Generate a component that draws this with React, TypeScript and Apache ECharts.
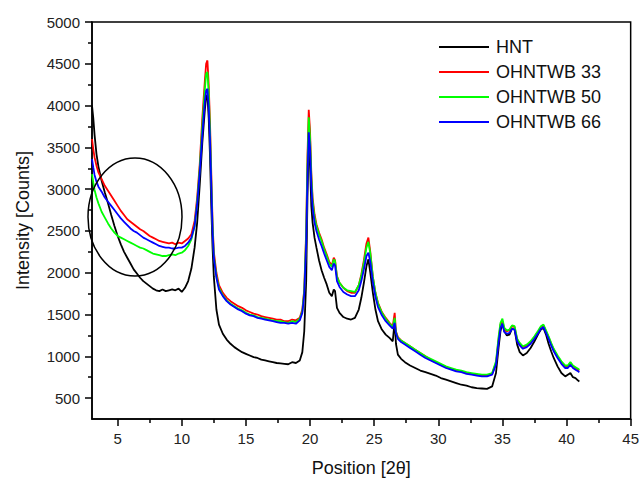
import React, { useEffect, useRef } from "react";
import * as echarts from "echarts";

const positions = [
  3.0, 3.1, 3.2, 3.35, 3.5, 3.75, 4.0, 4.25, 4.5, 4.75,
  5.0, 5.25, 5.5, 5.75, 6.0, 6.25, 6.5, 6.75, 7.0, 7.25,
  7.5, 7.75, 8.0, 8.25, 8.5, 8.75, 9.0, 9.25, 9.5, 9.75,
  10.0, 10.25, 10.5, 10.75, 11.0, 11.2, 11.4, 11.6, 11.8, 11.9,
  12.0, 12.1, 12.2, 12.3, 12.4, 12.5, 12.7, 12.9, 13.2, 13.5,
  13.8, 14.1, 14.4, 14.7, 15.0, 15.3, 15.6, 15.9, 16.2, 16.5,
  16.8, 17.1, 17.4, 17.7, 18.0, 18.3, 18.6, 18.9, 19.2, 19.4,
  19.55, 19.7, 19.8, 19.9, 20.0, 20.1, 20.2, 20.35, 20.5, 20.7,
  20.9, 21.1, 21.3, 21.5, 21.7, 21.85, 21.95, 22.1, 22.3, 22.6,
  22.9, 23.2, 23.5, 23.8, 24.0, 24.2, 24.4, 24.55, 24.7, 24.9,
  25.1, 25.3, 25.6, 25.9, 26.2, 26.45, 26.6, 26.7, 26.85, 27.1,
  27.4, 27.8, 28.2, 28.6, 29.0, 29.4, 29.8, 30.2, 30.6, 31.0,
  31.4, 31.8, 32.2, 32.6, 33.0, 33.4, 33.8, 34.2, 34.5, 34.7,
  34.85, 35.0, 35.15, 35.35, 35.55, 35.75, 35.95, 36.15, 36.35, 36.6,
  36.9, 37.2, 37.5, 37.8, 38.0, 38.2, 38.4, 38.6, 38.8, 39.0,
  39.3, 39.6, 39.9, 40.1, 40.3, 40.5, 40.7, 40.9, 41.0,
];

const hnt = [
  4000, 3850, 3650, 3420, 3270, 3100, 2960, 2830, 2690, 2560,
  2440, 2340, 2250, 2180, 2110, 2040, 1990, 1940, 1900, 1870,
  1840, 1810, 1790, 1780, 1800, 1780, 1790, 1800, 1790, 1810,
  1770, 1820, 1900, 2050, 2300, 2600, 3050, 3550, 3950, 4100,
  4130, 3850, 3400, 2800, 2300, 1950, 1560, 1380, 1270, 1200,
  1150, 1110, 1080, 1050, 1030, 1010, 990, 980, 960, 950,
  940, 930, 920, 915, 910, 905, 930, 920, 950, 1050,
  1300, 1900, 2900, 3550, 3300, 2800, 2600, 2420, 2300, 2150,
  2030, 1940, 1860, 1760, 1720, 1800, 1780, 1580, 1520, 1470,
  1450, 1440, 1460, 1560, 1700, 1880, 2080, 2160, 2000, 1760,
  1560, 1420, 1320, 1260, 1220, 1180, 1420, 1150, 1020, 970,
  930, 890, 860, 830, 810, 790, 770, 740, 720, 700,
  680, 660, 650, 630, 620, 615, 610, 640, 800, 1100,
  1300, 1400, 1300, 1250, 1260, 1330, 1320, 1140, 1050, 1010,
  1040, 1100, 1180, 1270, 1320, 1340, 1260, 1150, 1060, 980,
  880, 800, 760, 780, 800, 750, 740, 710, 700,
];

const ohntwb33 = [
  3600, 3480, 3380, 3280, 3200, 3120, 3040, 2980, 2920, 2860,
  2800, 2740, 2690, 2640, 2610, 2580, 2550, 2520, 2500, 2470,
  2440, 2420, 2400, 2380, 2370, 2360, 2350, 2360, 2340, 2360,
  2350, 2380, 2410, 2460, 2620, 2900, 3300, 3850, 4300, 4500,
  4540, 4250, 3800, 3200, 2600, 2250, 2000, 1850, 1760, 1700,
  1660, 1630, 1600, 1580, 1550, 1530, 1510, 1500, 1480, 1470,
  1460, 1450, 1440, 1440, 1420, 1420, 1440, 1430, 1460, 1560,
  1800, 2500, 3400, 3950, 3700, 3200, 2900, 2700, 2580, 2480,
  2400, 2300, 2220, 2130, 2090, 2180, 2150, 1960, 1880, 1820,
  1780, 1760, 1760, 1850, 1980, 2150, 2350, 2420, 2250, 1950,
  1760, 1640, 1530, 1460, 1400, 1360, 1520, 1300, 1230, 1190,
  1160, 1120, 1080, 1040, 1000, 960, 930, 900, 870, 850,
  830, 820, 800, 790, 780, 770, 770, 790, 920, 1200,
  1380, 1420, 1320, 1300, 1310, 1360, 1350, 1200, 1150, 1110,
  1130, 1170, 1230, 1300, 1350, 1370, 1300, 1230, 1150, 1080,
  1000, 930, 880, 880, 920, 880, 860, 840, 830,
];

const ohntwb50 = [
  3180, 3080, 2990, 2900, 2830, 2730, 2660, 2590, 2530, 2480,
  2440, 2420, 2400, 2380, 2360, 2340, 2320, 2300, 2290, 2270,
  2250, 2230, 2220, 2210, 2200, 2200, 2210, 2220, 2210, 2230,
  2240, 2270, 2320, 2400, 2560, 2850, 3250, 3750, 4200, 4380,
  4400, 4150, 3700, 3100, 2550, 2200, 1960, 1820, 1730, 1670,
  1630, 1600, 1570, 1550, 1520, 1500, 1490, 1470, 1460, 1450,
  1440, 1430, 1420, 1420, 1410, 1400, 1420, 1410, 1450, 1540,
  1780, 2450, 3300, 3860, 3620, 3150, 2860, 2660, 2560, 2460,
  2380, 2280, 2200, 2110, 2070, 2160, 2140, 1950, 1880, 1820,
  1790, 1780, 1770, 1850, 1960, 2120, 2300, 2370, 2230, 1950,
  1760, 1630, 1520, 1450, 1390, 1350, 1460, 1290, 1220, 1190,
  1160, 1120, 1080, 1040, 1000, 970, 940, 910, 880, 860,
  840, 830, 810, 800, 790, 780, 780, 800, 940, 1230,
  1400, 1450, 1340, 1310, 1320, 1370, 1360, 1210, 1160, 1120,
  1140, 1180, 1240, 1310, 1360, 1380, 1310, 1240, 1160, 1090,
  1010, 940, 890, 890, 930, 890, 870, 850, 840,
];

const ohntwb66 = [
  3360, 3260, 3170, 3090, 3030, 2970, 2900, 2850, 2800, 2750,
  2700, 2650, 2610, 2570, 2530, 2500, 2480, 2450, 2420, 2400,
  2380, 2360, 2340, 2320, 2310, 2300, 2300, 2290, 2290, 2300,
  2300, 2320, 2360, 2420, 2560, 2820, 3200, 3650, 4050, 4180,
  4200, 3980, 3600, 3050, 2500, 2180, 1940, 1800, 1720, 1660,
  1620, 1590, 1560, 1540, 1510, 1490, 1480, 1460, 1450, 1440,
  1430, 1420, 1410, 1400, 1400, 1390, 1400, 1390, 1430, 1520,
  1740, 2350, 3150, 3680, 3500, 3050, 2780, 2600, 2500, 2400,
  2320, 2230, 2150, 2070, 2030, 2110, 2090, 1900, 1830, 1770,
  1740, 1720, 1720, 1790, 1900, 2040, 2200, 2240, 2130, 1890,
  1710, 1590, 1490, 1420, 1370, 1330, 1400, 1280, 1210, 1170,
  1140, 1100, 1060, 1020, 980, 950, 920, 890, 860, 840,
  820, 810, 790, 780, 770, 760, 760, 780, 900, 1170,
  1340, 1390, 1290, 1270, 1280, 1330, 1320, 1180, 1130, 1090,
  1110, 1150, 1210, 1280, 1330, 1350, 1280, 1210, 1130, 1060,
  980, 910, 860, 860, 900, 860, 840, 820, 810,
];

const seriesNames = ["HNT", "OHNTWB 33", "OHNTWB 50", "OHNTWB 66"];
const seriesColors = ["#000000", "#ff0000", "#00ff00", "#0000ff"];

const xMajorTicks = [5, 10, 15, 20, 25, 30, 35, 40, 45];
const xMinorTicks = [7.5, 12.5, 17.5, 22.5, 27.5, 32.5, 37.5, 42.5];
const yMajorTicks = [500, 1000, 1500, 2000, 2500, 3000, 3500, 4000, 4500, 5000];
const yMinorTicks = [750, 1250, 1750, 2250, 2750, 3250, 3750, 4250, 4750];

const FONT = "'Liberation Sans', Arial, sans-serif";

export default function App() {
  const ref = useRef<HTMLDivElement>(null);
  useEffect(() => {
    document.body.style.margin = "0";
    const chart = echarts.init(ref.current as HTMLDivElement, null, { renderer: "svg" });
    const values = [hnt, ohntwb33, ohntwb50, ohntwb66];
    const tickLine = { color: "#000", width: 1.5 };
    chart.setOption({
      animation: false,
      backgroundColor: "#ffffff",
      textStyle: { fontFamily: FONT },
      grid: {
        left: 92,
        right: 9,
        top: 22,
        bottom: 62,
        show: true,
        borderColor: "#000",
        borderWidth: 1.5,
        backgroundColor: "transparent",
      },
      legend: {
        orient: "vertical",
        left: 439,
        top: 38,
        padding: 0,
        icon: "rect",
        itemWidth: 50,
        itemHeight: 2,
        itemGap: 7,
        textStyle: { fontSize: 18, color: "#111", fontFamily: FONT, padding: [0, 0, 0, 2] },
        data: seriesNames,
      },
      xAxis: [
        {
          type: "value",
          min: 3,
          max: 45,
          position: "bottom",
          name: "Position [2θ]",
          nameLocation: "middle",
          nameGap: 40,
          nameTextStyle: { fontSize: 18, color: "#111", fontFamily: FONT },
          axisLine: { show: true, onZero: false, lineStyle: tickLine },
          axisTick: { show: true, customValues: xMajorTicks, length: 7, lineStyle: tickLine },
          axisLabel: {
            customValues: xMajorTicks,
            fontSize: 15,
            color: "#222",
            margin: 12,
            formatter: (v: number) => String(v),
          },
          splitLine: { show: false },
        },
        {
          type: "value",
          min: 3,
          max: 45,
          position: "bottom",
          axisLine: { show: false, onZero: false },
          axisTick: { show: true, customValues: xMinorTicks, length: 4, lineStyle: tickLine },
          axisLabel: { show: false },
          splitLine: { show: false },
        },
      ],
      yAxis: [
        {
          type: "value",
          min: 250,
          max: 5000,
          position: "left",
          name: "Intensity [Counts]",
          nameLocation: "middle",
          nameGap: 60,
          nameTextStyle: { fontSize: 18, color: "#111", fontFamily: FONT },
          axisLine: { show: true, onZero: false, lineStyle: tickLine },
          axisTick: { show: true, customValues: yMajorTicks, length: 7, lineStyle: tickLine },
          axisLabel: {
            customValues: yMajorTicks,
            fontSize: 15,
            color: "#222",
            margin: 12,
            formatter: (v: number) => String(v),
          },
          splitLine: { show: false },
        },
        {
          type: "value",
          min: 250,
          max: 5000,
          position: "left",
          axisLine: { show: false, onZero: false },
          axisTick: { show: true, customValues: yMinorTicks, length: 4, lineStyle: tickLine },
          axisLabel: { show: false },
          splitLine: { show: false },
        },
      ],
      series: seriesNames.map((name, i) => ({
        name,
        type: "line",
        xAxisIndex: 0,
        yAxisIndex: 0,
        symbol: "none",
        data: positions.map((p, j) => [p, values[i][j]]),
        lineStyle: { color: seriesColors[i], width: 1.8 },
        itemStyle: { color: seriesColors[i] },
        z: 2 + i,
      })),
      graphic: [
        {
          type: "ellipse",
          shape: { cx: 135, cy: 217, rx: 47, ry: 59 },
          style: { fill: "transparent", stroke: "#000", lineWidth: 1.5 },
          z: 100,
        },
      ],
    });
    return () => chart.dispose();
  }, []);
  return (
    <div
      ref={ref}
      style={{ position: "absolute", left: 0, top: 0, width: 642, height: 482 }}
    />
  );
}
